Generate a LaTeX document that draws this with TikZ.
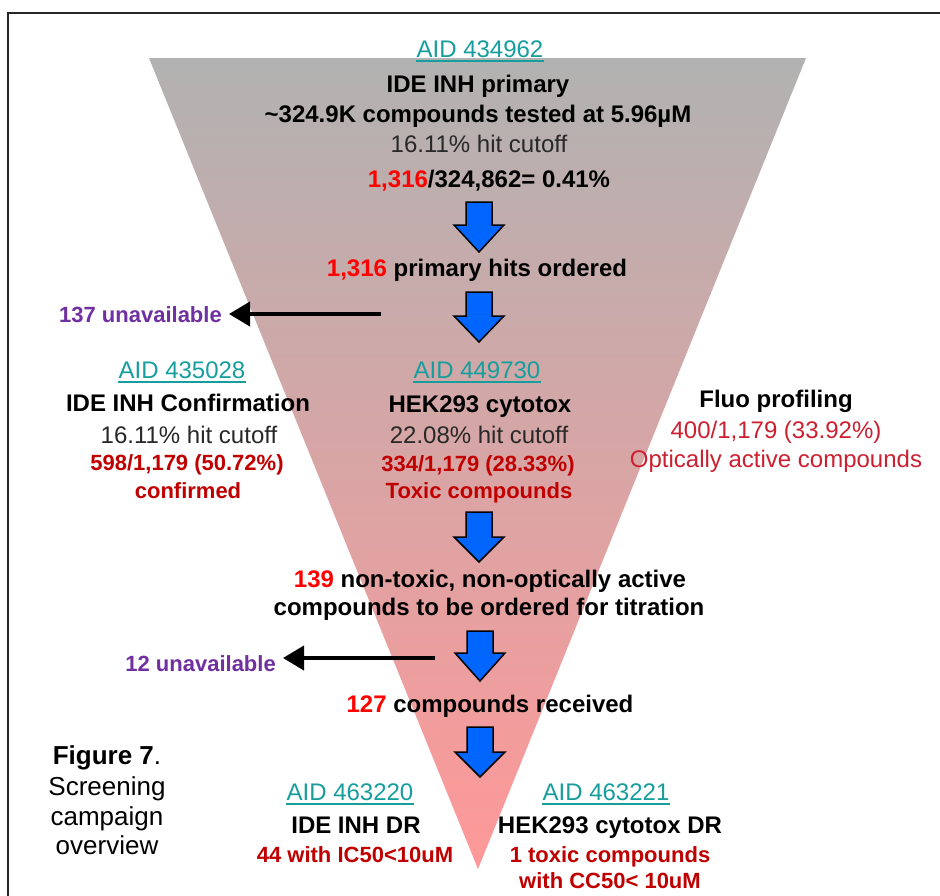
\documentclass[tikz,border=0pt]{standalone}
\usepackage{fontspec}
\setmainfont{Liberation Sans}
\usetikzlibrary{arrows.meta}
\definecolor{aidteal}{RGB}{22,158,158}
\definecolor{numred}{RGB}{255,0,0}
\definecolor{resred}{RGB}{192,0,0}
\definecolor{fluored}{RGB}{204,32,48}
\definecolor{unavpurple}{RGB}{112,48,160}
\definecolor{cutgray}{RGB}{40,40,40}
\definecolor{funtop}{RGB}{178,178,178}
\definecolor{funbot}{RGB}{255,152,152}
\definecolor{arrowblue}{RGB}{0,102,255}
\newcommand\fsMain{\fontsize{24}{28}\selectfont}
\newcommand\fsRes{\fontsize{22}{26}\selectfont}
\newcommand\fsCapt{\fontsize{26}{30}\selectfont}
\newcommand\blockarrow[4]{%
  \draw[blockarr] (#1-13,#2) -- (#1+13,#2) -- (#1+13,#3) -- (#1+25,#3) -- (#1,#4) -- (#1-25,#3) -- (#1-13,#3) -- cycle;}
\tikzset{
  txt/.style={inner sep=0pt, anchor=base, font=\fsMain, text=cutgray},
  bld/.style={inner sep=0pt, anchor=base, font=\fsMain\bfseries, text=black},
  aid/.style={inner sep=0pt, anchor=base, font=\fsMain, text=aidteal},
  aidline/.style={draw=aidteal, line width=2.2pt},
  res/.style={inner sep=0pt, anchor=base, font=\fsRes\bfseries, text=resred},
  fluo/.style={inner sep=0pt, anchor=base, font=\fsMain, text=fluored},
  unav/.style={inner sep=0pt, anchor=base east, font=\fsRes\bfseries, text=unavpurple},
  capt/.style={inner sep=0pt, anchor=base, font=\fsCapt, text=black},
  blockarr/.style={fill=arrowblue, draw=black, line width=1.5pt, line join=miter},
  blackarr/.style={draw=black, line width=4pt, -{Triangle[length=21pt,width=24pt]}, shorten >=7pt},
}
\begin{document}
\begin{tikzpicture}[x=1pt,y=-1pt]
\useasboundingbox (0,0) rectangle (940,895);
\fill[white] (0,0) rectangle (940,895);
% frame
\draw[line width=2pt, black!85] (8,900) -- (8,13) -- (945,13);
% funnel
\shade[top color=funtop, bottom color=funbot] (149,58) -- (806,58) -- (478,869) -- cycle;

% top block
\node[aid] (aidA) at (480,57) {AID 434962};
\draw[aidline] ([yshift=-4pt]aidA.base west) -- ([yshift=-4pt]aidA.base east);
\node[bld] (prim) at (478,92) {IDE INH primary};
\node[bld] (tested) at (478,122) {\textasciitilde324.9K compounds tested at 5.96µM};
\node[txt] (cutA) at (479,152) {16.11\% hit cutoff};
\node[bld] (ratio) at (489,187) {{\color{numred}1,316}/324,862= 0.41\%};

\blockarrow{479}{202}{225}{252}
\node[bld] (ordered) at (477,276) {{\color{numred}1,316} primary hits ordered};

\blockarrow{479}{292}{316}{342}
\node[unav] (unavA) at (222,322) {137 unavailable};
\coordinate (tailA) at (381,314);
\draw[blackarr] (tailA) -- (tailA -| unavA.east);

% left column
\node[aid] (aidB) at (182,378) {AID 435028};
\draw[aidline] ([yshift=-4pt]aidB.base west) -- ([yshift=-4pt]aidB.base east);
\node[bld] (confB) at (188,411) {IDE INH Confirmation};
\node[txt] (cutB) at (189,443) {16.11\% hit cutoff};
\node[res] (resB) at (187,470) {598/1,179 (50.72\%)};
\node[res] (resB2) at (188,498) {confirmed};

% center column
\node[aid] (aidC) at (477,378) {AID 449730};
\draw[aidline] ([yshift=-4pt]aidC.base west) -- ([yshift=-4pt]aidC.base east);
\node[bld] (hek) at (480,412) {HEK293 cytotox};
\node[txt] (cutC) at (479,443) {22.08\% hit cutoff};
\node[res] (resC) at (478,471) {334/1,179 (28.33\%)};
\node[res] (resC2) at (479,498) {Toxic compounds};

% right column
\node[bld] (fluo) at (776,407) {Fluo profiling};
\node[fluo] (fluoA) at (776,438) {400/1,179 (33.92\%)};
\node[fluo] (fluoB) at (776,467) {Optically active compounds};

\blockarrow{479}{512}{537}{562}
\node[bld] (nontox) at (490,587) {{\color{numred}139} non-toxic, non-optically active};
\node[bld] (titr) at (489,615) {compounds to be ordered for titration};

\blockarrow{480}{631}{653}{681}
\node[unav] (unavB) at (276,671) {12 unavailable};
\coordinate (tailB) at (435,658);
\draw[blackarr] (tailB) -- (tailB -| unavB.east);

\node[bld] (recv) at (490,712) {{\color{numred}127} compounds received};

\blockarrow{480}{727}{752}{777}

% caption
\node[capt] (fig) at (107,764) {\textbf{Figure 7}.};
\node[capt] (scr) at (107,795) {Screening};
\node[capt] (camp) at (107,825) {campaign};
\node[capt] (over) at (107,854) {overview};

% bottom left
\node[aid] (aidD) at (350,800) {AID 463220};
\draw[aidline] ([yshift=-4pt]aidD.base west) -- ([yshift=-4pt]aidD.base east);
\node[bld] (dr) at (356,833) {IDE INH DR};
\node[res] (resD) at (355,862) {44 with IC50<10uM};

% bottom right
\node[aid] (aidE) at (606,800) {AID 463221};
\draw[aidline] ([yshift=-4pt]aidE.base west) -- ([yshift=-4pt]aidE.base east);
\node[bld] (hekdr) at (610,833) {HEK293 cytotox DR};
\node[res] (resE) at (610,862) {1 toxic compounds};
\node[res] (resE2) at (610,888) {with CC50< 10uM};
\end{tikzpicture}
\end{document}
